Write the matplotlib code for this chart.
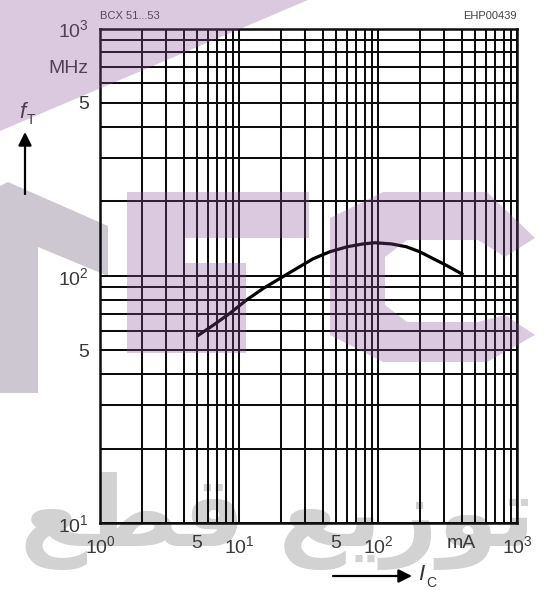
import numpy as np
import matplotlib.pyplot as plt
from matplotlib.patches import Polygon
from matplotlib.ticker import LogLocator, NullFormatter

plt.rcParams['font.family'] = ['Liberation Sans', 'DejaVu Sans']
plt.rcParams['mathtext.fontset'] = 'custom'
plt.rcParams['mathtext.rm'] = 'Liberation Sans'
plt.rcParams['mathtext.it'] = 'Liberation Sans:italic'

# transition frequency vs collector current, BCX 51...53
ic_ma = [5, 6.5, 8.6, 11.4, 15, 20, 26, 34, 45, 60, 78, 95, 125, 160, 200, 237, 312, 411]
ft_mhz = [57, 63, 70.5, 80, 89, 98, 107, 117, 125, 131, 134.5, 136, 134.5, 131, 125, 119, 110, 101]

x_ticks = [1, 5, 10, 50, 100, 400, 1000]
x_labels = [r'$10^0$', '5', r'$10^1$', '5', r'$10^2$', 'mA', r'$10^3$']
y_ticks = [10, 50, 100, 500, 700, 1000]
y_labels = [r'$10^1$', '5', r'$10^2$', '5', 'MHz', r'$10^3$']

W, H = 545, 590
fig = plt.figure(figsize=(W / 100, H / 100), dpi=100)
fig.patch.set_facecolor('white')


def px(pts):
    # pixel coords (origin top-left) -> figure fraction
    return [(x / W, 1 - y / H) for x, y in pts]


# background watermark pieces
fig.add_artist(Polygon(px([(0, 186), (8, 182), (108, 226), (108, 276), (38, 247),
                           (38, 393), (0, 393)]),
                       closed=True, transform=fig.transFigure,
                       facecolor='#cdc7d1', edgecolor='none', zorder=-2))
arabic = '\uFECA\uFEC4\uFED7 \uFECA\uFEF3\uFEAF\uFEEE\uFE97'
fig.text(278 / W, 1 - 546 / H, arabic, fontsize=70, family='DejaVu Sans',
         weight='bold', color='#d2d2d2', ha='center', va='baseline', zorder=-2)

ax = fig.add_axes([100 / W, 1 - 523 / H, 417 / W, 494.5 / H])
ax.set_facecolor('none')
ax.set_xscale('log')
ax.set_yscale('log')
ax.set_xlim(1, 1000)
ax.set_ylim(10, 1000)

ax.xaxis.set_minor_locator(LogLocator(base=10, subs=np.arange(2, 10)))
ax.yaxis.set_minor_locator(LogLocator(base=10, subs=np.arange(2, 10)))
ax.xaxis.set_minor_formatter(NullFormatter())
ax.yaxis.set_minor_formatter(NullFormatter())
ax.set_xticks(x_ticks, x_labels)
ax.set_yticks(y_ticks, y_labels)
ax.tick_params(which='both', length=0, labelsize=14, labelcolor='#3a3a3a')
ax.tick_params(axis='x', pad=9)
ax.tick_params(axis='y', pad=8)

ax.grid(which='both', color='#0d0d0d', linewidth=1.45)
for s in ax.spines.values():
    s.set_linewidth(1.8)
    s.set_color('#0d0d0d')

ax.plot(ic_ma, ft_mhz, color='black', linewidth=2.3, zorder=3,
        solid_capstyle='butt', solid_joinstyle='round')

# headers
fig.text(100 / W, 1 - 16 / H, 'BCX 51...53', fontsize=8, color='#444444', va='center')
fig.text(517 / W, 1 - 16 / H, 'EHP00439', fontsize=8, color='#444444',
         va='center', ha='right')

# axis names with arrows
fig.text(19 / W, 1 - 113 / H, 'f', fontsize=16, style='italic', color='#333333',
         va='center')
fig.text(27 / W, 1 - 120 / H, 'T', fontsize=10, color='#333333', va='center')
ax.annotate('', xy=(25 / W, 1 - 132 / H), xytext=(25 / W, 1 - 194 / H),
            xycoords='figure fraction', annotation_clip=False,
            arrowprops=dict(arrowstyle='-|>', color='black', lw=1.6,
                            mutation_scale=20, shrinkA=0, shrinkB=0))
ax.annotate('', xy=(412 / W, 1 - 576 / H), xytext=(333 / W, 1 - 576 / H),
            xycoords='figure fraction', annotation_clip=False,
            arrowprops=dict(arrowstyle='-|>', color='black', lw=1.6,
                            mutation_scale=20, shrinkA=0, shrinkB=0))
fig.text(418 / W, 1 - 575 / H, 'I', fontsize=16, style='italic', color='#333333',
         va='center')
fig.text(426 / W, 1 - 583 / H, 'C', fontsize=10, color='#333333', va='center')

# translucent logo overlay
purple = dict(closed=True, transform=fig.transFigure, facecolor='#8a5298',
              edgecolor='none', alpha=0.3, zorder=10)
fig.add_artist(Polygon(px([(0, 0), (308, 0), (0, 131)]), **purple))
fig.add_artist(Polygon(px([(127, 192), (309, 192), (309, 238), (185, 238),
                           (185, 263), (246, 263), (246, 353), (127, 353)]),
                       **purple))
fig.add_artist(Polygon(px([(330, 218), (383, 192), (487, 192), (535, 238),
                           (505, 257), (478, 240), (407, 240), (385, 257),
                           (385, 305), (407, 322), (478, 322), (505, 315),
                           (535, 335), (487, 362), (383, 362), (330, 335)]),
                       **purple))

fig.savefig('out.png', dpi=100)
